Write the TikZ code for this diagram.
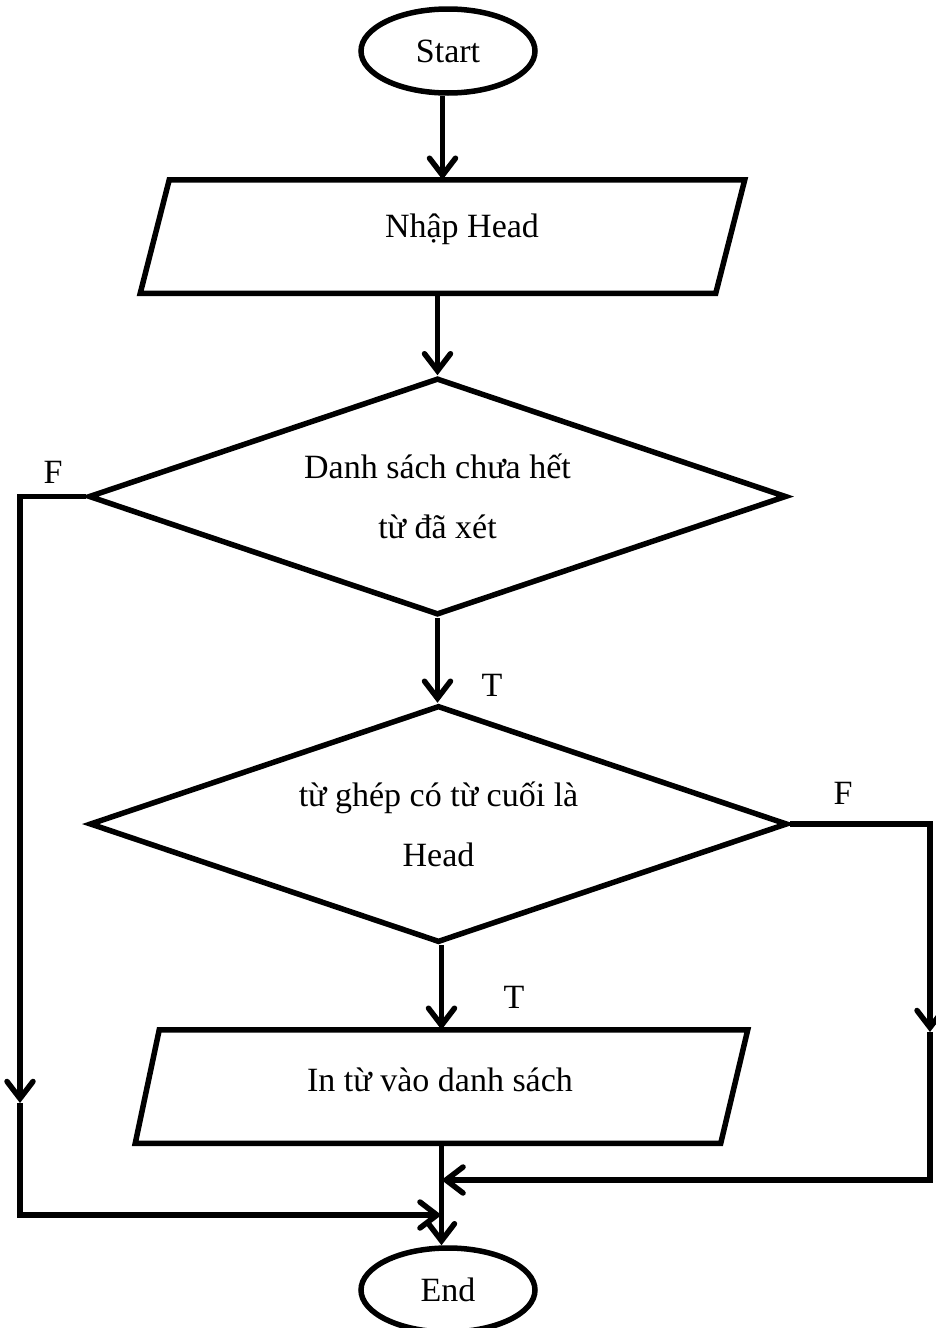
\documentclass[tikz,border=0pt]{standalone}
\usepackage{fontspec}
\setmainfont{Liberation Serif}
\usetikzlibrary{shapes.geometric,arrows.meta}
\begin{document}
\begin{tikzpicture}[x=1pt,y=-1pt,
  line width=5.5pt,
  every node/.style={font=\fontsize{34}{60}\selectfont, inner sep=0pt},
  terminal/.style={draw, ellipse, minimum width=174pt, minimum height=84pt},
  ioframe/.style={minimum width=#1, minimum height=108pt},
  decision/.style={draw, diamond, shape aspect=2.95, minimum width=698pt,
    minimum height=237pt, align=center},
  flow/.style={-{Straight Barb[length=17pt,width=26pt,line cap=round]}},
  tag/.style={font=\fontsize{34}{40}\selectfont}
]
\useasboundingbox (0,0) rectangle (935,1328);

% blocks
\node[terminal] (start) at (448,51) {Start};
\node[ioframe=599pt] (input) at (442.5,236.5) {};
\node (inputtext) at (462,229) {Nhập Head};
\node[decision] (d1) at (437.5,496.5) {Danh sách chưa hết\\từ đã xét};
\node[decision] (d2) at (438.5,824) {từ ghép có từ cuối là\\Head};
\node[ioframe=607pt] (output) at (441.5,1086.5) {};
\node (outputtext) at (440,1080) {In từ vào danh sách};
\node[terminal] (end) at (448,1290) {End};

% slanted input/output frames
\draw ([xshift=29pt]input.north west) -- (input.north east)
  -- ([xshift=-29pt]input.south east) -- (input.south west) -- cycle;
\draw ([xshift=24pt]output.north west) -- (output.north east)
  -- ([xshift=-27pt]output.south east) -- (output.south west) -- cycle;

% branch labels
\node[tag] (f1) at (53,472) {F};
\node[tag] (t1) at (492,685) {T};
\node[tag] (f2) at (843,793) {F};
\node[tag] (t2) at (514,997) {T};

% route points
\coordinate (la) at (20,495);
\coordinate (lm) at (20,1103);
\coordinate (lb) at (20,1215);
\coordinate (ra) at (930,827);
\coordinate (rm) at (930,1032);
\coordinate (rb) at (930,1180);

% main flow
\draw[flow] (start.south -| input.north) -- (input.north);
\draw[flow] (input.south -| d1.north) -- (d1.north);
\draw[flow] (d1.south) -- (d1.south |- d2.north);
\draw[flow] (d2.south -| output.north) -- (output.north);
\draw[flow] (output.south) -- (output.south |- end.north);

% false branch of the first test
\draw[flow] (d1.west) -- (d1.west -| la) -- (lm);
\draw[flow] (lm) -- (lb) -- (lb -| output.south);

% false branch of the second test
\draw[flow] (d2.east) -- (d2.east -| ra) -- (rm);
\draw[flow] (rm) -- (rb) -- (rb -| output.south);
\end{tikzpicture}
\end{document}
